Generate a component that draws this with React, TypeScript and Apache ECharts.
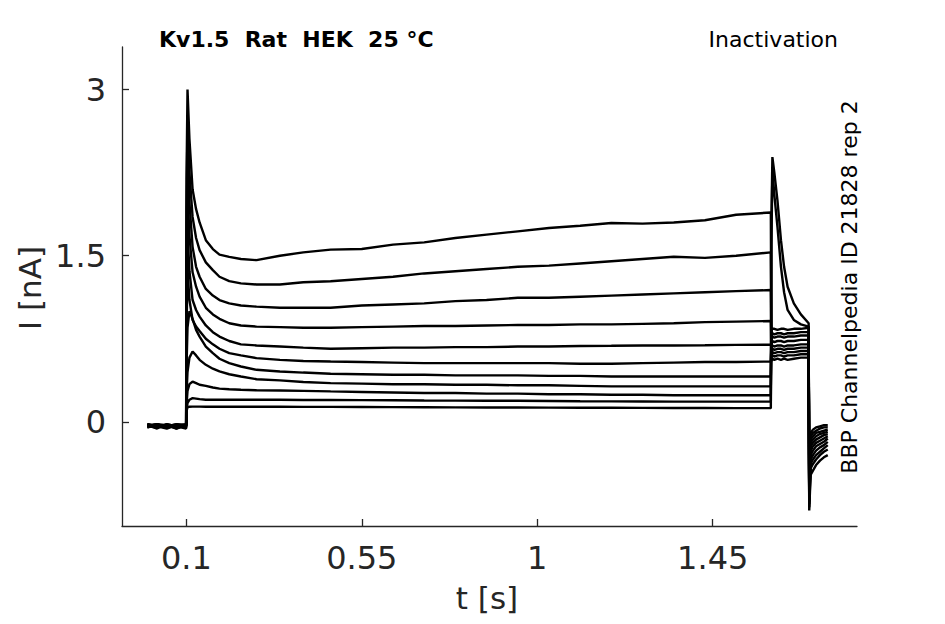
import React, { useEffect, useRef } from "react";
import * as echarts from "echarts";

// shared time grid [s]
const T = [
  0.0, 0.025, 0.05, 0.075, 0.0995,
  0.1005, 0.103, 0.108, 0.116, 0.125, 0.134, 0.15, 0.168, 0.185, 0.21, 0.24, 0.28,
  0.34, 0.4, 0.47, 0.55, 0.63, 0.71, 0.79, 0.87, 0.95, 1.03, 1.11, 1.19, 1.27, 1.35, 1.43, 1.51, 1.599,
  1.6005, 1.603, 1.608, 1.616, 1.625, 1.633, 1.642, 1.658, 1.676, 1.696,
  1.6975, 1.701, 1.707, 1.715, 1.725, 1.735, 1.745,
];

// currents [nA]
const I1 = [
  -0.02, -0.05, -0.03, -0.06, -0.03,
  2.2, 3.0, 2.55, 2.1, 1.92, 1.8, 1.64, 1.56, 1.51, 1.49, 1.47, 1.46,
  1.5, 1.53, 1.555, 1.56, 1.6, 1.62, 1.66, 1.69, 1.72, 1.75, 1.77, 1.795, 1.79, 1.8, 1.82, 1.87, 1.89,
  0.55, 0.57, 0.56, 0.57, 0.56, 0.57, 0.56, 0.57, 0.58, 0.58,
  -0.55, -0.1, -0.07, -0.05, -0.04, -0.03, -0.03,
];
const I2 = [
  -0.04, -0.02, -0.05, -0.03, -0.04,
  1.9, 2.72, 2.25, 1.85, 1.66, 1.55, 1.44, 1.37, 1.31, 1.27, 1.25, 1.24,
  1.24, 1.26, 1.27, 1.29, 1.31, 1.34, 1.36, 1.38, 1.4, 1.41, 1.43, 1.45, 1.47, 1.49, 1.48, 1.5, 1.53,
  0.59, 0.6, 0.59, 0.6, 0.6, 0.59, 0.6, 0.6, 0.61, 0.61,
  -0.6, -0.13, -0.1, -0.08, -0.06, -0.05, -0.05,
];
const I3 = [
  -0.03, -0.06, -0.02, -0.04, -0.05,
  1.6, 2.42, 1.98, 1.58, 1.4, 1.31, 1.2, 1.14, 1.1, 1.07, 1.05, 1.04,
  1.03, 1.03, 1.03, 1.05, 1.06, 1.07, 1.09, 1.1, 1.12, 1.12, 1.13, 1.14, 1.15, 1.16, 1.17, 1.18, 1.19,
  0.62, 0.63, 0.62, 0.63, 0.63, 0.62, 0.63, 0.63, 0.64, 0.64,
  -0.62, -0.16, -0.13, -0.1, -0.09, -0.08, -0.07,
];
const I4 = [
  -0.05, -0.03, -0.04, -0.02, -0.04,
  1.3, 2.08, 1.68, 1.35, 1.22, 1.13, 1.03, 0.97, 0.93, 0.89, 0.87, 0.86,
  0.855, 0.85, 0.85, 0.855, 0.86, 0.865, 0.865, 0.87, 0.875, 0.875, 0.88, 0.88, 0.885, 0.89, 0.9, 0.905, 0.91,
  0.65, 0.66, 0.65, 0.66, 0.66, 0.65, 0.66, 0.66, 0.67, 0.67,
  -0.64, -0.19, -0.16, -0.13, -0.11, -0.1, -0.09,
];
const I5 = [
  -0.02, -0.04, -0.06, -0.03, -0.02,
  1.0, 1.72, 1.36, 1.1, 1.01, 0.95, 0.87, 0.81, 0.77, 0.73, 0.7, 0.69,
  0.68, 0.67, 0.66, 0.665, 0.67, 0.67, 0.675, 0.675, 0.68, 0.68, 0.685, 0.687, 0.69, 0.69, 0.692, 0.695, 0.696,
  0.68, 0.69, 0.68, 0.69, 0.69, 0.68, 0.69, 0.69, 0.7, 0.7,
  -0.66, -0.22, -0.19, -0.16, -0.14, -0.12, -0.11,
];
const I6 = [
  -0.04, -0.02, -0.03, -0.05, -0.03,
  0.8, 1.38, 1.1, 0.92, 0.86, 0.82, 0.75, 0.7, 0.66, 0.62, 0.6, 0.575,
  0.56, 0.55, 0.545, 0.54, 0.535, 0.53, 0.53, 0.53, 0.53, 0.53, 0.525, 0.524, 0.53, 0.535, 0.54, 0.54, 0.545,
  0.72, 0.73, 0.72, 0.73, 0.73, 0.72, 0.73, 0.73, 0.74, 0.74,
  -0.68, -0.26, -0.22, -0.19, -0.17, -0.15, -0.13,
];
const I7 = [
  -0.03, -0.05, -0.02, -0.04, -0.06,
  0.5, 0.85, 1.0, 0.93, 0.83, 0.77, 0.68, 0.62, 0.57, 0.53, 0.5, 0.47,
  0.455, 0.445, 0.435, 0.43, 0.425, 0.425, 0.42, 0.42, 0.42, 0.415, 0.415, 0.41, 0.41, 0.41, 0.41, 0.41, 0.41,
  0.76, 0.77, 0.76, 0.77, 0.77, 0.76, 0.77, 0.77, 0.78, 0.78,
  -0.7, -0.3, -0.26, -0.22, -0.2, -0.18, -0.15,
];
const I8 = [
  -0.05, -0.03, -0.04, -0.02, -0.03,
  0.25, 0.45, 0.58, 0.635, 0.6, 0.56, 0.515, 0.48, 0.455, 0.43, 0.41, 0.385,
  0.375, 0.36, 0.35, 0.345, 0.34, 0.34, 0.335, 0.335, 0.33, 0.33, 0.325, 0.32, 0.32, 0.32, 0.32, 0.32, 0.32,
  0.79, 0.8, 0.79, 0.8, 0.8, 0.79, 0.8, 0.8, 0.81, 0.81,
  -0.72, -0.34, -0.3, -0.26, -0.23, -0.21, -0.18,
];
const I9 = [
  -0.02, -0.04, -0.03, -0.06, -0.02,
  0.15, 0.28, 0.34, 0.364, 0.35, 0.335, 0.325, 0.31, 0.3, 0.295, 0.29, 0.285,
  0.283, 0.28, 0.275, 0.27, 0.265, 0.26, 0.26, 0.255, 0.255, 0.25, 0.25, 0.245, 0.245, 0.24, 0.24, 0.24, 0.24,
  0.83, 0.84, 0.84, 0.83, 0.84, 0.84, 0.83, 0.84, 0.84, 0.85,
  -0.74, -0.38, -0.34, -0.3, -0.27, -0.24, -0.21,
];
const I10 = [
  -0.04, -0.05, -0.03, -0.04, -0.03,
  0.1, 0.17, 0.2, 0.214, 0.21, 0.205, 0.2, 0.2, 0.2, 0.2, 0.2, 0.199,
  0.199, 0.198, 0.197, 0.196, 0.195, 0.193, 0.192, 0.19, 0.19, 0.188, 0.186, 0.185, 0.184, 0.183, 0.183, 0.183, 0.183,
  1.6, 2.28, 2.05, 1.76, 1.4, 1.17, 1.01, 0.92, 0.88, 0.86,
  -0.77, -0.42, -0.38, -0.34, -0.3, -0.27, -0.25,
];
const I11 = [
  -0.03, -0.02, -0.05, -0.03, -0.04,
  0.1, 0.13, 0.137, 0.138, 0.138, 0.138, 0.137, 0.137, 0.137, 0.136, 0.136, 0.136,
  0.136, 0.135, 0.135, 0.134, 0.133, 0.132, 0.131, 0.13, 0.13, 0.129, 0.128, 0.127, 0.126, 0.125, 0.125, 0.124, 0.124,
  1.8, 2.39, 2.25, 2.0, 1.64, 1.4, 1.22, 1.07, 0.97, 0.89,
  -0.8, -0.48, -0.44, -0.39, -0.35, -0.32, -0.3,
];
const TRACES = [I1, I2, I3, I4, I5, I6, I7, I8, I9, I10, I11];

const X_TICKS = [0.1, 0.55, 1, 1.45];
const Y_TICKS = [0, 1.5, 3];

const TITLE = "Kv1.5  Rat  HEK  25 °C";
const PROTOCOL = "Inactivation";
const SOURCE = "BBP Channelpedia ID 21828 rep 2";
const X_NAME = "t [s]";
const Y_NAME = "I [nA]";

const FONT = "'DejaVu Sans', sans-serif";
const AXIS_COLOR = "#262626";

export default function App() {
  const ref = useRef<HTMLDivElement>(null);

  useEffect(() => {
    document.body.style.margin = "0";
    if (!ref.current) return;
    const chart = echarts.init(ref.current, undefined, { renderer: "svg" });
    chart.setOption({
      animation: false,
      backgroundColor: "#ffffff",
      grid: { left: 122, top: 47, right: 88, bottom: 98 },
      xAxis: {
        type: "value",
        min: -0.065,
        max: 1.82,
        axisLine: { show: true, onZero: false, lineStyle: { color: AXIS_COLOR, width: 1.3 } },
        axisTick: { show: true, inside: true, length: 7, customValues: X_TICKS, lineStyle: { color: AXIS_COLOR, width: 1.3 } },
        axisLabel: { customValues: X_TICKS, color: AXIS_COLOR, fontSize: 32, fontFamily: FONT, margin: 16 },
        splitLine: { show: false },
      },
      yAxis: {
        type: "value",
        min: -0.94,
        max: 3.384,
        axisLine: { show: true, onZero: false, lineStyle: { color: AXIS_COLOR, width: 1.3 } },
        axisTick: { show: true, inside: true, length: 7, customValues: Y_TICKS, lineStyle: { color: AXIS_COLOR, width: 1.3 } },
        axisLabel: { customValues: Y_TICKS, color: AXIS_COLOR, fontSize: 32, fontFamily: FONT, margin: 16 },
        splitLine: { show: false },
      },
      series: TRACES.map((vals, k) => ({
        type: "line",
        name: "trace" + (k + 1),
        data: T.map((t, i) => [t, vals[i]]),
        showSymbol: false,
        symbol: "none",
        lineStyle: { color: "#000000", width: 2.4 },
        silent: true,
      })),
      graphic: [
        {
          type: "text",
          x: 159,
          y: 39,
          style: { text: TITLE, font: "bold 22px " + FONT, fill: "#000", textAlign: "left", textVerticalAlign: "middle" },
        },
        {
          type: "text",
          x: 838,
          y: 39,
          style: { text: PROTOCOL, font: "22px " + FONT, fill: "#000", textAlign: "right", textVerticalAlign: "middle" },
        },
        {
          type: "text",
          x: 849,
          y: 287,
          rotation: Math.PI / 2,
          style: { text: SOURCE, font: "22px " + FONT, fill: "#000", textAlign: "center", textVerticalAlign: "middle" },
        },
        {
          type: "text",
          x: 487,
          y: 598,
          style: { text: X_NAME, font: "31px " + FONT, fill: AXIS_COLOR, textAlign: "center", textVerticalAlign: "middle" },
        },
        {
          type: "text",
          x: 30,
          y: 288,
          rotation: Math.PI / 2,
          style: { text: Y_NAME, font: "31px " + FONT, fill: AXIS_COLOR, textAlign: "center", textVerticalAlign: "middle" },
        },
      ],
    });
    return () => chart.dispose();
  }, []);

  return <div ref={ref} style={{ width: 945, height: 624 }} />;
}
